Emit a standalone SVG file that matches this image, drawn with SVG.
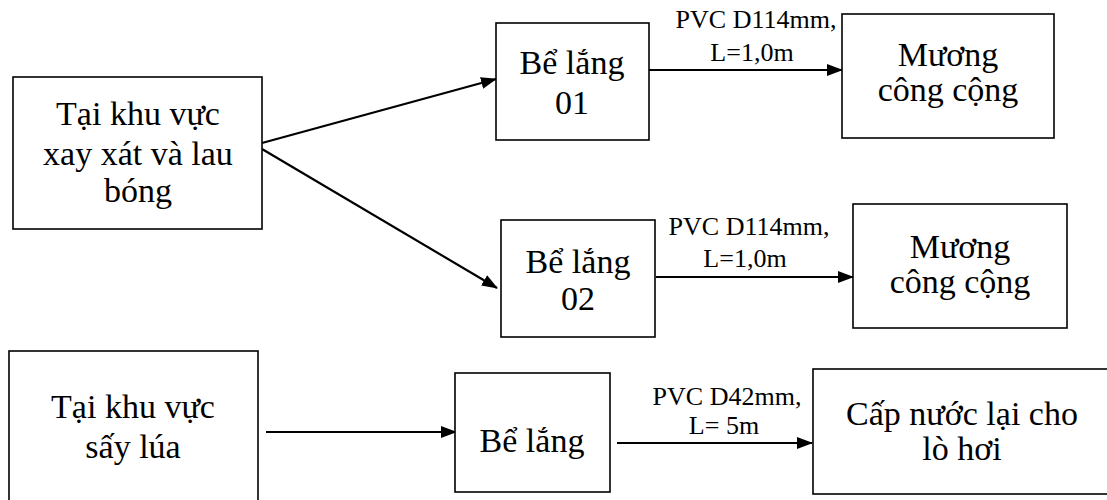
<svg xmlns="http://www.w3.org/2000/svg" width="1107" height="500" viewBox="0 0 1107 500">
<style>
.box{fill:#fff;stroke:#000;stroke-width:1.6}
.t{font-size:34px;fill:#000;text-anchor:middle}
.l{font-size:26px;fill:#000;text-anchor:middle}
.c{stroke:#000;stroke-width:2.2;fill:none;marker-end:url(#ah)}
</style>
<defs>
<marker id="ah" markerWidth="16" markerHeight="12" refX="15" refY="6" orient="auto" markerUnits="userSpaceOnUse">
<path d="M0,0 L16,6 L0,12 Z" fill="#000"/>
</marker>
</defs>
<rect width="1107" height="500" fill="#fff"/>
<g font-family="'Times New Roman', 'Liberation Serif', 'DejaVu Serif', serif">
<g id="connectors">
<line class="c" x1="262" y1="143" x2="496" y2="79"/>
<line class="c" x1="262" y1="149" x2="497" y2="288"/>
<line class="c" x1="649" y1="70" x2="842" y2="70"/>
<line class="c" x1="656" y1="277" x2="853" y2="277"/>
<line class="c" x1="266" y1="432" x2="456" y2="432"/>
<line class="c" x1="617" y1="443" x2="812" y2="443"/>
<text class="l" x="756" y="28">PVC D114mm,</text>
<text class="l" x="752" y="61">L=1,0m</text>
<text class="l" x="749" y="235">PVC D114mm,</text>
<text class="l" x="745" y="267">L=1,0m</text>
<text class="l" x="727" y="405">PVC D42mm,</text>
<text class="l" x="724" y="434">L= 5m</text>
</g>
<g id="n-xayxat">
<rect class="box" x="13" y="77" width="249" height="152"/>
<text class="t" x="138" y="125">Tại khu vực</text>
<text class="t" x="138" y="165">xay xát và lau</text>
<text class="t" x="138" y="202">bóng</text>
</g>
<g id="n-belang01">
<rect class="box" x="496" y="23" width="153" height="117"/>
<text class="t" x="572" y="74">Bể lắng</text>
<text class="t" x="572" y="114">01</text>
</g>
<g id="n-muong1">
<rect class="box" x="842" y="14" width="212" height="124"/>
<text class="t" x="948" y="66">Mương</text>
<text class="t" x="948" y="101">công cộng</text>
</g>
<g id="n-belang02">
<rect class="box" x="501" y="220" width="154" height="117"/>
<text class="t" x="578" y="273">Bể lắng</text>
<text class="t" x="578" y="310">02</text>
</g>
<g id="n-muong2">
<rect class="box" x="853" y="204" width="214" height="124"/>
<text class="t" x="960" y="258">Mương</text>
<text class="t" x="960" y="293">công cộng</text>
</g>
<g id="n-saylua">
<rect class="box" x="9" y="351" width="249" height="160"/>
<text class="t" x="133" y="418">Tại khu vực</text>
<text class="t" x="133" y="458">sấy lúa</text>
</g>
<g id="n-belang">
<rect class="box" x="455" y="373" width="155" height="119"/>
<text class="t" x="532" y="452">Bể lắng</text>
</g>
<g id="n-capnuoc">
<rect class="box" x="813" y="369" width="300" height="125"/>
<text class="t" x="962" y="425">Cấp nước lại cho</text>
<text class="t" x="962" y="460">lò hơi</text>
</g>
</g>
</svg>
